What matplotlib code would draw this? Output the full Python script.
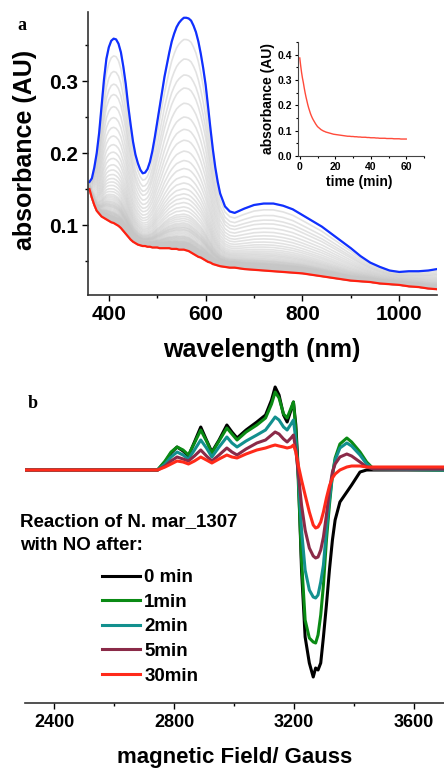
import numpy as np
import matplotlib
matplotlib.use("Agg")
import matplotlib.pyplot as plt
from matplotlib.ticker import MultipleLocator

plt.rcParams['font.family'] = ['Liberation Sans', 'DejaVu Sans']
plt.rcParams['font.weight'] = 'bold'

# ---- panel a: UV-vis spectra ----
wl = [360, 365, 370, 375, 380, 385, 390, 395, 400, 405, 410, 415, 420, 425, 430,
      435, 440, 445, 450, 455, 460, 465, 470, 475, 480, 485, 490, 495, 500, 505,
      510, 515, 520, 525, 530, 535, 540, 545, 550, 555, 560, 565, 570, 575, 580,
      585, 590, 595, 600, 605, 610, 615, 620, 625, 630, 640, 650, 660, 670, 680,
      700, 720, 740, 760, 780, 800, 820, 840, 860, 880, 900, 920, 940, 960, 980,
      1000, 1020, 1040, 1060, 1078]
abs_start = [0.160, 0.165, 0.180, 0.200, 0.228, 0.265, 0.302, 0.331, 0.347, 0.356,
             0.359, 0.358, 0.352, 0.340, 0.320, 0.296, 0.266, 0.240, 0.216, 0.198,
             0.186, 0.177, 0.172, 0.173, 0.178, 0.188, 0.203, 0.222, 0.243, 0.264,
             0.285, 0.306, 0.323, 0.340, 0.355, 0.366, 0.375, 0.381, 0.385, 0.388,
             0.388, 0.387, 0.384, 0.377, 0.368, 0.355, 0.338, 0.318, 0.295, 0.265,
             0.234, 0.205, 0.180, 0.160, 0.144, 0.126, 0.119, 0.117, 0.120, 0.123,
             0.128, 0.130, 0.130, 0.127, 0.122, 0.114, 0.106, 0.098, 0.088, 0.078,
             0.068, 0.057, 0.048, 0.042, 0.037, 0.035, 0.036, 0.036, 0.037, 0.039]
abs_end = [0.150, 0.138, 0.128, 0.120, 0.116, 0.112, 0.110, 0.108, 0.106, 0.104,
           0.103, 0.101, 0.099, 0.096, 0.092, 0.088, 0.084, 0.080, 0.077, 0.075,
           0.073, 0.072, 0.071, 0.071, 0.070, 0.070, 0.069, 0.069, 0.069, 0.068,
           0.068, 0.068, 0.068, 0.068, 0.067, 0.067, 0.067, 0.066, 0.066, 0.066,
           0.065, 0.064, 0.062, 0.060, 0.058, 0.056, 0.055, 0.053, 0.051, 0.049,
           0.048, 0.046, 0.045, 0.044, 0.043, 0.042, 0.041, 0.041, 0.040, 0.039,
           0.038, 0.037, 0.036, 0.035, 0.034, 0.033, 0.031, 0.029, 0.027, 0.025,
           0.023, 0.022, 0.021, 0.019, 0.018, 0.017, 0.015, 0.014, 0.012, 0.011]

# kinetics at 557 nm (inset)
time_min = [0, 0.5, 1, 1.5, 2, 2.5, 3, 3.5, 4, 4.5, 5, 5.5, 6, 6.5, 7, 7.5, 8,
            8.5, 9, 9.5, 10, 10.5, 11, 11.5, 12, 12.5, 13, 13.5, 14, 14.5, 15,
            16, 17, 18, 19, 20, 21, 22, 23, 24, 25, 26, 27, 28, 29, 30, 31, 32,
            33, 34, 35, 36, 37, 38, 39, 40, 41, 42, 43, 44, 45, 46, 47, 48, 49,
            50, 51, 52, 53, 54, 55, 56, 57, 58, 59, 60]
abs_557 = [0.387, 0.357, 0.330, 0.308, 0.290, 0.269, 0.250, 0.233, 0.218, 0.203,
           0.190, 0.179, 0.168, 0.159, 0.151, 0.144, 0.138, 0.132, 0.126, 0.121,
           0.116, 0.113, 0.110, 0.107, 0.104, 0.102, 0.100, 0.098, 0.097, 0.095,
           0.094, 0.092, 0.090, 0.088, 0.086, 0.085, 0.084, 0.083, 0.082, 0.081,
           0.080, 0.079, 0.078, 0.078, 0.077, 0.077, 0.076, 0.076, 0.075, 0.075,
           0.074, 0.074, 0.074, 0.073, 0.073, 0.072, 0.072, 0.072, 0.071, 0.071,
           0.070, 0.070, 0.070, 0.070, 0.069, 0.069, 0.069, 0.069, 0.068, 0.068,
           0.068, 0.068, 0.067, 0.067, 0.067, 0.067]

# ---- panel b: EPR spectra ----
field = [2305, 2745, 2770, 2790, 2810, 2830, 2848, 2868, 2889, 2908, 2926, 2950,
         2976, 2993, 3010, 3040, 3076, 3105, 3125, 3137, 3150, 3165, 3177, 3190,
         3198, 3206, 3214, 3225, 3237, 3251, 3264, 3272, 3280, 3289, 3298, 3308,
         3318, 3328, 3337, 3353, 3376, 3392, 3420, 3442, 3465, 3700]
epr_0 = [0, 0, 8, 17, 23, 19, 14, 28, 43, 30, 18, 30, 45, 38, 32, 40, 48, 55, 70,
         83, 75, 55, 48, 60, 68, 45, 0, -100, -167, -193, -207, -198, -200, -193,
         -167, -135, -100, -70, -50, -32, -22, -15, -2, 0, 0, 0]
epr_1 = [0, 0, 9, 18, 23, 20, 15, 27, 40, 29, 17, 29, 42, 36, 30, 38, 45, 52, 66,
         78, 72, 56, 52, 62, 68, 40, -10, -90, -150, -168, -172, -173, -165, -145,
         -115, -70, -35, -5, 12, 26, 32, 28, 18, 8, 1, 0]
epr_2 = [0, 0, 6, 13, 18, 15, 11, 20, 30, 22, 13, 23, 33, 27, 23, 29, 35, 40, 48,
         53, 50, 43, 40, 46, 50, 30, -5, -60, -100, -120, -127, -128, -125, -112,
         -95, -60, -30, -5, 10, 22, 27, 24, 15, 6, 1, 0]
epr_5 = [0, 0, 4, 9, 13, 11, 9, 14, 20, 14, 9, 15, 22, 18, 15, 21, 27, 30, 35,
         38, 36, 31, 28, 32, 35, 20, -3, -35, -60, -78, -86, -88, -87, -80,
         -67, -45, -20, -2, 6, 13, 16, 14, 8, 3, 1, 1]
epr_30 = [0, 0, 3, 6, 9, 8, 6, 9, 13, 10, 7, 11, 15, 13, 12, 16, 20, 22, 24,
          25, 24, 23, 22, 23, 25, 18, 5, -10, -25, -42, -55, -58, -57, -52,
          -42, -28, -16, -8, -4, 0, 3, 4, 4, 3, 3, 3]
epr_labels = ['0 min', '1min', '2min', '5min', '30min']
epr_colors = ['#000000', '#0a8a14', '#12908e', '#8a2a48', '#ff2a1a']

fig = plt.figure(figsize=(4.44, 7.69), dpi=100)

# panel a
ax1 = fig.add_axes([88/444, 1-295/769, 349/444, 283/769])
wl_a = np.array(wl)
a0 = np.array(abs_start)
a1 = np.array(abs_end)
k = np.array(abs_557)
# intermediate spectra scaled by the kinetic trace
frac = (k - k[-1]) / (k[0] - k[-1])
for f in frac:
    ax1.plot(wl_a, a1 + f * (a0 - a1), color='#c6c6c6', lw=1.2, alpha=0.5)
ax1.plot(wl, abs_start, color='#1030ff', lw=1.6)
ax1.plot(wl, abs_end, color='#ff2010', lw=1.6)
ax1.set_xlim(357, 1078)
ax1.set_ylim(0.003, 0.396)
ax1.set_xticks([400, 600, 800, 1000])
ax1.xaxis.set_minor_locator(MultipleLocator(100))
ax1.set_yticks([0.1, 0.2, 0.3])
ax1.yaxis.set_minor_locator(MultipleLocator(0.05))
for s in ['top', 'right']:
    ax1.spines[s].set_visible(False)
for s in ['left', 'bottom']:
    ax1.spines[s].set_linewidth(1.2)
    ax1.spines[s].set_color('#333333')
ax1.tick_params(which='major', direction='out', length=4, width=1, labelsize=15, pad=3)
ax1.tick_params(which='minor', direction='out', length=2.5, width=1)
fig.text(262/444, 1-350/769, 'wavelength (nm)', ha='center', va='center',
         fontsize=18, fontweight='bold')
fig.text(25/444, 1-150/769, 'absorbance (AU)', ha='center', va='center',
         rotation=90, fontsize=18, fontweight='bold')
fig.text(22/444, 1-25/769, 'a', ha='center', va='center', fontsize=13,
         fontweight='bold', family='Liberation Serif')

# inset
ax2 = fig.add_axes([298/444, 1-156/769, 126/444, 114/769])
ax2.plot(time_min, abs_557, color='#ff4a3a', lw=1.0)
ax2.set_xlim(-1, 70)
ax2.set_ylim(0, 0.45)
ax2.set_xticks([0, 20, 40, 60])
ax2.xaxis.set_minor_locator(MultipleLocator(10))
ax2.set_yticks([0.0, 0.1, 0.2, 0.3, 0.4])
ax2.yaxis.set_minor_locator(MultipleLocator(0.05))
for s in ['top', 'right']:
    ax2.spines[s].set_visible(False)
for s in ['left', 'bottom']:
    ax2.spines[s].set_color('#444444')
ax2.tick_params(which='major', direction='out', length=2.5, width=0.8, labelsize=7.5, pad=2)
ax2.tick_params(which='minor', direction='out', length=1.5, width=0.8)
ax2.patch.set_alpha(0)
fig.text(359/444, 1-182/769, 'time (min)', ha='center', va='center',
         fontsize=10, fontweight='bold')
fig.text(268/444, 1-98/769, 'absorbance (AU)', ha='center', va='center',
         rotation=90, fontsize=10, fontweight='bold')

# panel b
ax3 = fig.add_axes([25/444, 1-703/769, 419/444, 328/769])
series = [epr_0, epr_1, epr_2, epr_5, epr_30]
for vals, lab, col in zip(series, epr_labels, epr_colors):
    ax3.plot(field, vals, color=col, lw=2.2, label=lab)
ax3.set_xlim(2303, 3700)
ax3.set_ylim(-233, 95)
ax3.set_xticks([2400, 2800, 3200, 3600])
ax3.xaxis.set_minor_locator(MultipleLocator(200))
ax3.set_yticks([])
for s in ['top', 'right', 'left']:
    ax3.spines[s].set_visible(False)
ax3.spines['bottom'].set_linewidth(1.2)
ax3.spines['bottom'].set_color('#333333')
ax3.tick_params(which='major', direction='out', length=4, width=1, labelsize=13, pad=4)
ax3.tick_params(which='minor', direction='out', length=2.5, width=1)
fig.text(235/444, 1-757/769, 'magnetic Field/ Gauss', ha='center', va='center',
         fontsize=16, fontweight='bold')
fig.text(33/444, 1-403/769, 'b', ha='center', va='center', fontsize=13,
         fontweight='bold', family='Liberation Serif')
fig.text(20/444, 1-522/769, 'Reaction of N. mar_1307', ha='left', va='center',
         fontsize=13.5, fontweight='bold')
fig.text(20/444, 1-545/769, 'with NO after:', ha='left', va='center',
         fontsize=13.5, fontweight='bold')
ax3.legend(loc='upper left', bbox_to_anchor=(102/444, 1-569/769),
           bbox_transform=fig.transFigure, frameon=False, fontsize=13.5,
           handlelength=2.0, handletextpad=0.25, labelspacing=0.4,
           borderpad=0, borderaxespad=0)

fig.savefig('out.png', dpi=100)
